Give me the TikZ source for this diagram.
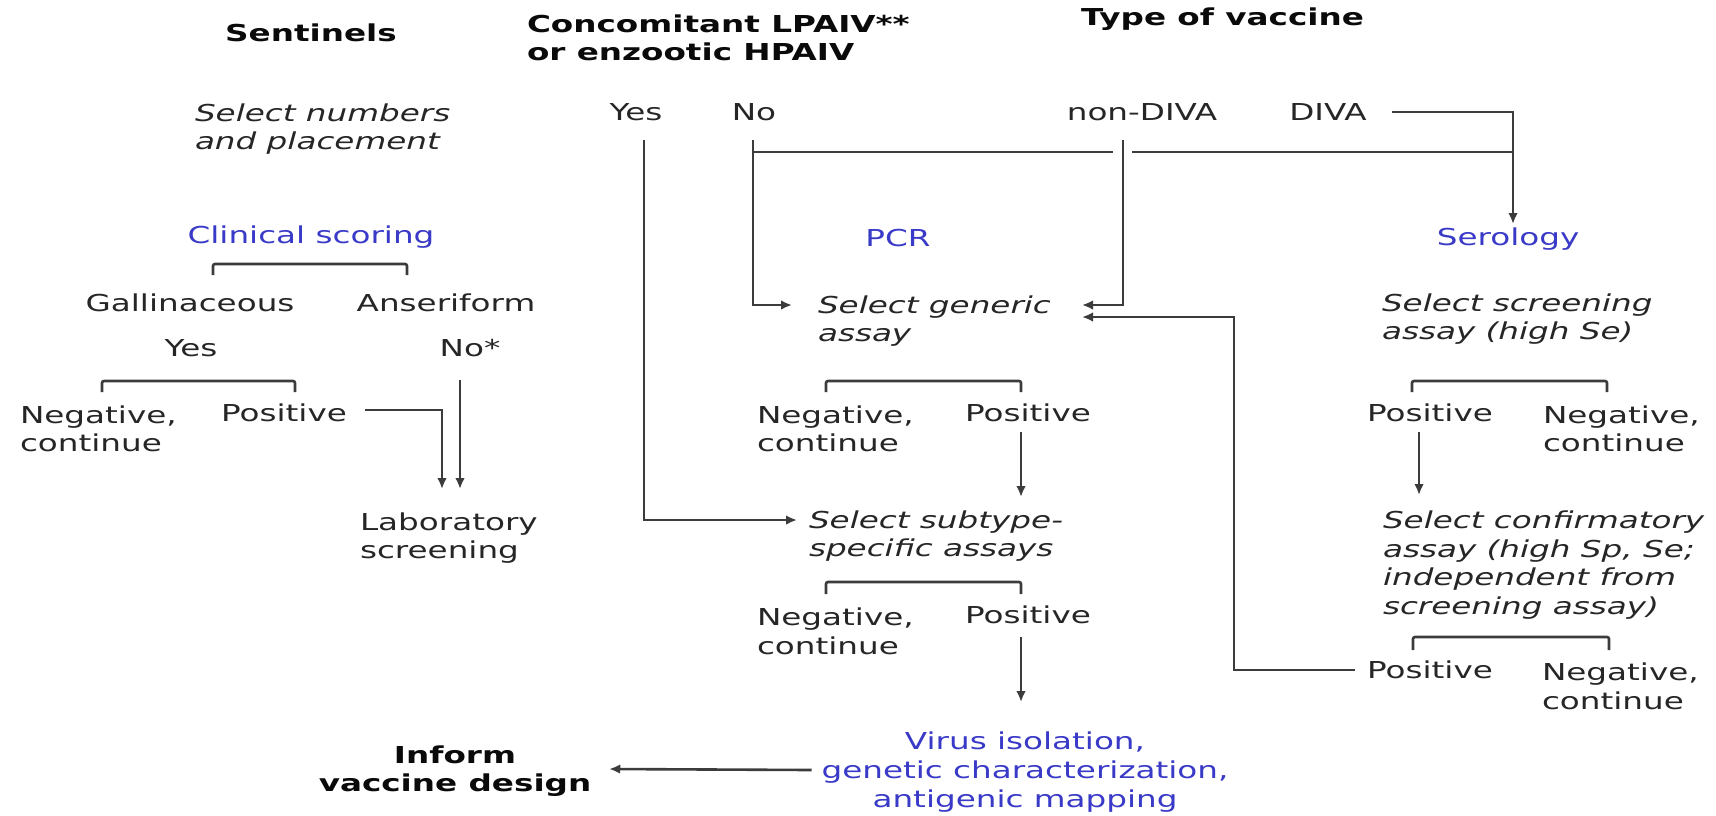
\documentclass[tikz,border=0pt]{standalone}
\usepackage{fontspec}
\setmainfont{DejaVu Sans}[FakeStretch=1.4,ItalicFont={DejaVu Sans Oblique},BoldFont={DejaVu Sans Bold},BoldItalicFont={DejaVu Sans Bold Oblique}]
\usetikzlibrary{arrows.meta,calc}
\definecolor{txtcol}{HTML}{262626}
\definecolor{hdrcol}{HTML}{0A0A0A}
\definecolor{bluecol}{HTML}{3A3AC8}
\definecolor{lncol}{HTML}{3C3C3C}
\newcommand\dfont{\fontsize{11.65pt}{14.3pt}\selectfont}
\newcommand\bracketshape[4]{\draw[conn,rounded corners=1pt] (#1,#3+#4) -- (#1,#3) -- (#2,#3) -- (#2,#3+#4);}
\begin{document}
\begin{tikzpicture}[x=0.5pt,y=-0.5pt,
  every node/.style={inner sep=0pt,outer sep=0pt,font=\dfont,text=txtcol},
  hd/.style={font=\dfont\bfseries,text=hdrcol},
  it/.style={font=\dfont\itshape},
  bl/.style={text=bluecol},
  ml/.style={align=left,anchor=west},
  conn/.style={draw=lncol,line width=1.3pt},
  arr/.style={conn,-{Latex[length=5.5pt,width=4.8pt]}}]
\fill[white] (0,0) rectangle (1716,815);
\useasboundingbox (0,0) rectangle (1716,815);

% headers
\node[hd] (sent) at (311,33) {Sentinels};
\node[hd,ml] (conc) at (527,38) {Concomitant LPAIV**\\or enzootic HPAIV};
\node[hd,anchor=west] (tov) at (1081,19) {Type of vaccine};

% top row
\node[it,ml] (selnum) at (195,129) {Select numbers\\and placement};
\node (yes1) at (636,112) {Yes};
\node (no1) at (754,112) {No};
\node (nond) at (1142,112) {non-DIVA};
\node (diva) at (1328,112) {DIVA};

% clinical scoring column
\node[bl] (clin) at (311,237) {Clinical scoring};
\node (gall) at (190,303) {Gallinaceous};
\node (anser) at (446,303) {Anseriform};
\node (yes2) at (191,348) {Yes};
\node (nostar) at (470,348) {No*};
\node[ml] (neg1) at (20,429) {Negative,\\continue};
\node (pos1) at (284,413) {Positive};
\node[ml] (lab) at (360,538) {Laboratory\\screening};

% PCR column
\node[bl] (pcr) at (898,238) {PCR};
\node[it,ml] (gen) at (818,321) {Select generic\\assay};
\node[ml] (neg2) at (757,429) {Negative,\\continue};
\node (pos2) at (1028,413) {Positive};
\node[it,ml] (sub) at (809,536) {Select subtype-\\specific assays};
\node[ml] (neg3) at (757,631) {Negative,\\continue};
\node (pos3) at (1028,615) {Positive};
\node[bl,align=center] (virus) at (1025,772) {Virus isolation,\\genetic characterization,\\antigenic mapping};
\node[hd,align=center] (inform) at (455,771) {Inform\\vaccine design};

% serology column
\node[bl] (sero) at (1508,239) {Serology};
\node[it,ml] (scr) at (1382,319) {Select screening\\assay (high Se)};
\node (pos4) at (1430,413) {Positive};
\node[ml] (neg4) at (1543,429) {Negative,\\continue};
\node[it,ml] (conf) at (1383,565) {Select confirmatory\\assay (high Sp, Se;\\independent from\\screening assay)};
\node (pos5) at (1430,670) {Positive};
\node[ml] (neg5) at (1542,686) {Negative,\\continue};

% brackets
\bracketshape{213}{407}{264}{11}
\bracketshape{102}{295}{381}{11}
\bracketshape{826}{1021}{381}{11}
\bracketshape{826}{1021}{582}{12}
\bracketshape{1412}{1607}{381}{11}
\bracketshape{1413}{1609}{637}{13}

% named coordinates
\coordinate (yesTop) at (644,140);
\coordinate (noTop) at (753,140);
\coordinate (ndTop) at (1123,140);
\coordinate (hjL) at (753,152);
\coordinate (hjA) at (1113,152);
\coordinate (hjB) at (1132,152);
\coordinate (hjR) at (1513,152);
\coordinate (seroIn) at (1513,224);
\coordinate (genInL) at (792,305);
\coordinate (genInR1) at (1082,305);
\coordinate (genInR2) at (1082,317);
\coordinate (retCorner) at (1234,317);
\coordinate (subInL) at (797,520);
\coordinate (subInT) at (1021,497);
\coordinate (virusIn) at (1021,702);
\coordinate (confIn) at (1419,495);
\coordinate (labIn1) at (442,489);
\coordinate (labIn2) at (460,489);
\coordinate (nsTop) at (460,380);

% top connectors
\draw[arr] ($(diva.east)+(25,0)$) -| (seroIn);
\draw[conn] (hjL) -- (hjA);
\draw[conn] (hjB) -- (hjR);
\draw[arr] (noTop) |- (genInL);
\draw[arr] (yesTop) |- (subInL);
\draw[arr] (ndTop) |- (genInR1);

% clinical connectors
\draw[arr] ($(pos1.east)+(18,-3)$) -| (labIn1);
\draw[arr] (nsTop) -- (labIn2);

% PCR connectors
\draw[arr] ($(pos2.south)+(-7,10)$) -- (subInT);
\draw[arr] ($(pos3.south)+(-7,13)$) -- (virusIn);
\draw[arr] ($(virus.west)+(-10,-2)$) -- ($(inform.east)+(18,-2)$);

% serology connectors
\draw[arr] ($(pos4.south)+(-11,10)$) -- (confIn);
\draw[arr] ($(pos5.west)+(-12,0)$) -| (retCorner) -- (genInR2);
\end{tikzpicture}
\end{document}
